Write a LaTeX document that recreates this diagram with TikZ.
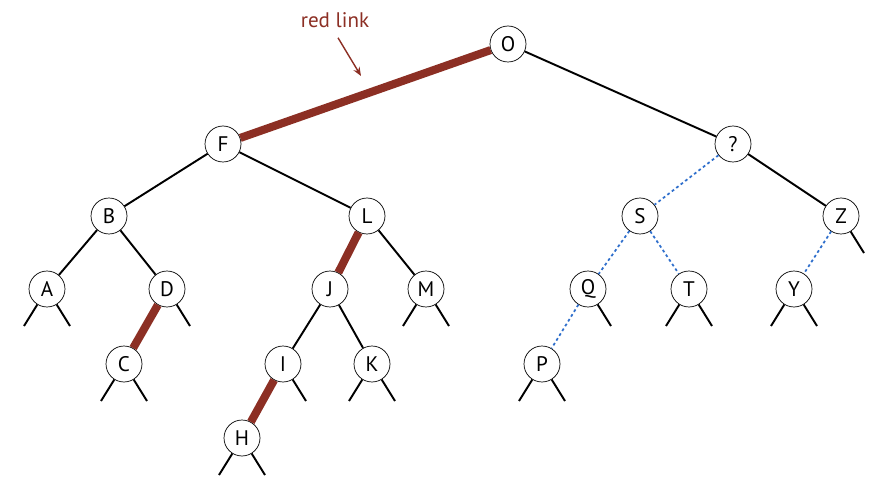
\documentclass[tikz,border=0pt]{standalone}
\usepackage{fontspec}
\setmainfont{PT Sans}
\usepackage{tikz}
\usetikzlibrary{arrows.meta}
\definecolor{redlink}{HTML}{8C2F24}
\definecolor{bluelink}{HTML}{2F6FCC}
\tikzset{
  key/.style={draw, circle, thin, fill=white, minimum size=0.72cm, inner sep=0pt, font=\large},
  black link/.style={line width=1.1pt},
  red link/.style={line width=4.6pt, draw=redlink},
  blue link/.style={line width=1pt, draw=bluelink, dash pattern=on 1.6pt off 1.6pt}
}
\begin{document}
\begin{tikzpicture}[x=0.02cm, y=-0.02cm]
    \useasboundingbox (0,0) rectangle (889,486);

    \node(O) [key] at (508, 44) {O};
    \node(F) [key] at (223, 144) {F};
    \node(qm) [key] at (733, 144) {?};
    \node(B) [key] at (109, 216) {B};
    \node(L) [key] at (367, 216) {L};
    \node(S) [key] at (640, 216) {S};
    \node(Z) [key] at (841, 216) {Z};
    \node(A) [key] at (47, 289) {A};
    \node(D) [key] at (167, 289) {D};
    \node(J) [key] at (330, 289) {J};
    \node(M) [key] at (426, 289) {M};
    \node(Q) [key] at (588, 289) {Q};
    \node(T) [key] at (689, 289) {T};
    \node(Y) [key] at (794, 289) {Y};
    \node(C) [key] at (124, 364) {C};
    \node(I) [key] at (283, 364) {I};
    \node(K) [key] at (372, 364) {K};
    \node(P) [key] at (542, 364) {P};
    \node(H) [key] at (242, 438) {H};

    \draw[red link] (O) -- (F);
    \draw[black link] (O) -- (qm);
    \draw[black link] (F) -- (B);
    \draw[black link] (F) -- (L);
    \draw[black link] (B) -- (A);
    \draw[black link] (B) -- (D);
    \draw[red link] (D) -- (C);
    \draw[red link] (L) -- (J);
    \draw[black link] (L) -- (M);
    \draw[black link] (J) -- (I);
    \draw[black link] (J) -- (K);
    \draw[red link] (I) -- (H);
    \draw[blue link] (qm) -- (S);
    \draw[black link] (qm) -- (Z);
    \draw[blue link] (S) -- (Q);
    \draw[blue link] (S) -- (T);
    \draw[blue link] (Q) -- (P);
    \draw[blue link] (Z) -- (Y);

    \foreach \n in {A, C, H, K, M, P, T, Y} {
      \draw[black link] (\n) -- +(-23, 37);
      \draw[black link] (\n) -- +(23, 37);
    }
    \foreach \n in {D, I, Q, Z} {
      \draw[black link] (\n) -- +(23, 37);
    }

    \node(label) [text=redlink, font=\large] at (335, 20) {red link};
    \coordinate (tip) at (361, 76);
    \draw[-{Stealth[length=5pt, width=4pt]}, draw=redlink, thick] (label.south) ++(3,4) -- (tip);
\end{tikzpicture}
\end{document}
